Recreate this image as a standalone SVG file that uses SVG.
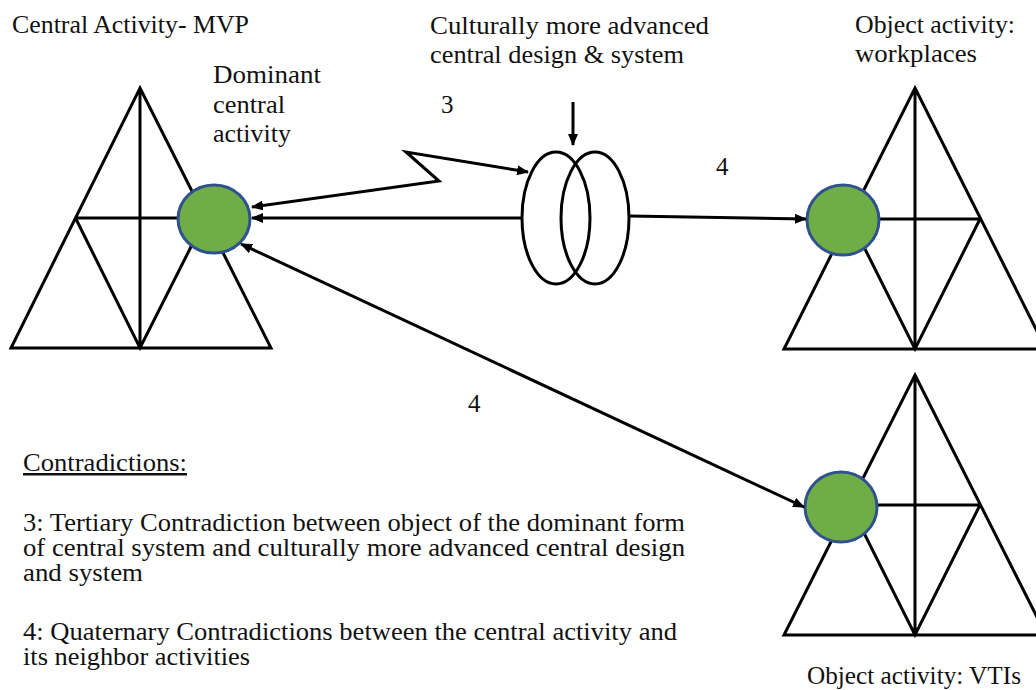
<svg xmlns="http://www.w3.org/2000/svg" width="1036" height="690" viewBox="0 0 1036 690">
<style>
.tri{fill:none;stroke:#000;stroke-width:3;stroke-linejoin:miter}
.dot{fill:#70AD47;stroke:#2F528F;stroke-width:3}
.ring{fill:none;stroke:#000;stroke-width:3}
.con{fill:none;stroke:#000;stroke-width:3}
.t{font-family:"Liberation Serif",serif;font-size:25px;fill:#111}
</style>
<defs>
<marker id="ah" viewBox="0 0 12 10" refX="11" refY="5" markerWidth="12" markerHeight="10" markerUnits="userSpaceOnUse" orient="auto-start-reverse">
<path d="M0,0 L12,5 L0,10 z" fill="#000"/>
</marker>
</defs>
<rect width="1036" height="690" fill="#fff"/>

<g id="central-activity">
<path class="tri" d="M140,88 L271,348 L11,348 Z M140,88 L140,348 M75.5,218 L205.5,218 M75.5,218 L140,348 L205.5,218"/>
<ellipse class="dot" cx="214" cy="219" rx="36" ry="34"/>
<text class="t" font-family="Liberation Serif, serif" x="12" y="33" textLength="237" lengthAdjust="spacingAndGlyphs">Central Activity- MVP</text>
<text class="t" font-family="Liberation Serif, serif" x="213" y="83" textLength="108" lengthAdjust="spacingAndGlyphs">Dominant</text>
<text class="t" font-family="Liberation Serif, serif" x="213" y="113" textLength="72" lengthAdjust="spacingAndGlyphs">central</text>
<text class="t" font-family="Liberation Serif, serif" x="213" y="142" textLength="78" lengthAdjust="spacingAndGlyphs">activity</text>
</g>

<g id="advanced-system">
<ellipse class="ring" cx="556" cy="218" rx="34" ry="66"/>
<ellipse class="ring" cx="595" cy="218" rx="34" ry="66"/>
<text class="t" font-family="Liberation Serif, serif" x="430" y="34" textLength="279" lengthAdjust="spacingAndGlyphs">Culturally more advanced</text>
<text class="t" font-family="Liberation Serif, serif" x="430" y="63" textLength="254" lengthAdjust="spacingAndGlyphs">central design &amp; system</text>
</g>

<g id="workplaces-activity">
<path class="tri" d="M915,88 L1046,349 L784,349 Z M915,88 L915,349 M850,219 L980,219 M850,219 L915,349 L980,219"/>
<ellipse class="dot" cx="843" cy="220" rx="36" ry="35"/>
<text class="t" font-family="Liberation Serif, serif" x="855" y="33" textLength="160" lengthAdjust="spacingAndGlyphs">Object activity:</text>
<text class="t" font-family="Liberation Serif, serif" x="855" y="62" textLength="122" lengthAdjust="spacingAndGlyphs">workplaces</text>
</g>

<g id="vtis-activity">
<path class="tri" d="M915,375 L1046,635 L784,635 Z M915,375 L915,635 M850,505 L980,505 M850,505 L915,635 L980,505"/>
<ellipse class="dot" cx="841" cy="507" rx="36" ry="35"/>
<text class="t" font-family="Liberation Serif, serif" x="807" y="684" textLength="214" lengthAdjust="spacingAndGlyphs">Object activity: VTIs</text>
</g>

<g id="connectors">
<path class="con" marker-end="url(#ah)" d="M522,218 L252,218"/>
<path class="con" marker-start="url(#ah)" marker-end="url(#ah)" d="M252,207 L439,181 L406,152 L528,172"/>
<path class="con" marker-end="url(#ah)" d="M629,216 L806,219"/>
<path class="con" marker-end="url(#ah)" d="M573,102 L573,145"/>
<path class="con" marker-start="url(#ah)" marker-end="url(#ah)" d="M241,244 L804,507"/>
</g>

<g id="labels">
<text class="t" font-family="Liberation Serif, serif" x="441" y="113">3</text>
<text class="t" font-family="Liberation Serif, serif" x="716" y="175">4</text>
<text class="t" font-family="Liberation Serif, serif" x="468" y="412">4</text>
</g>

<g id="legend">
<text class="t" font-family="Liberation Serif, serif" x="23" y="471" textLength="164" lengthAdjust="spacingAndGlyphs" text-decoration="underline">Contradictions:</text>
<text class="t" font-family="Liberation Serif, serif" x="23" y="531" textLength="662" lengthAdjust="spacingAndGlyphs">3: Tertiary Contradiction between object of the dominant form</text>
<text class="t" font-family="Liberation Serif, serif" x="23" y="556" textLength="662" lengthAdjust="spacingAndGlyphs">of central system and culturally more advanced central design</text>
<text class="t" font-family="Liberation Serif, serif" x="23" y="581" textLength="120" lengthAdjust="spacingAndGlyphs">and system</text>
<text class="t" font-family="Liberation Serif, serif" x="23" y="640" textLength="654" lengthAdjust="spacingAndGlyphs">4: Quaternary Contradictions between the central activity and</text>
<text class="t" font-family="Liberation Serif, serif" x="23" y="665" textLength="227" lengthAdjust="spacingAndGlyphs">its neighbor activities</text>
</g>
</svg>
